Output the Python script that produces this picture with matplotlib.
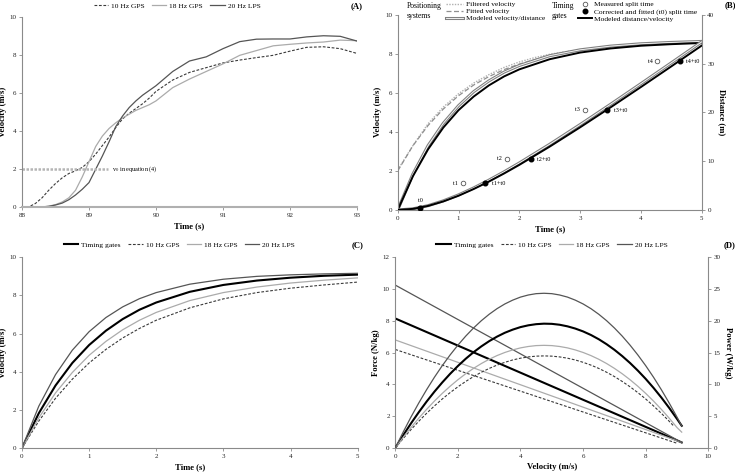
import matplotlib
matplotlib.use("Agg")
import matplotlib.pyplot as plt
from matplotlib.lines import Line2D

plt.rcParams['font.family'] = ['Liberation Serif', 'DejaVu Serif']
plt.rcParams['mathtext.fontset'] = 'stix'

# ---- panel A: raw velocity traces ----
t_a = [88.0, 88.1, 88.2, 88.3, 88.4, 88.5, 88.6, 88.7, 88.8, 88.9,
       89.0, 89.1, 89.2, 89.3, 89.4, 89.5, 89.6, 89.7, 89.8, 89.9,
       90.0, 90.25, 90.5, 90.75, 91.0, 91.25, 91.5, 91.75, 92.0, 92.25,
       92.5, 92.75, 93.0]
v_a_gps10 = [0, 0.02, 0.2, 0.5, 0.9, 1.25, 1.55, 1.78, 1.92, 2.1,
             2.4, 2.8, 3.25, 3.7, 4.2, 4.65, 4.95, 5.2, 5.45, 5.75,
             6.1, 6.7, 7.1, 7.35, 7.6, 7.75, 7.88, 8.0, 8.22, 8.42,
             8.45, 8.35, 8.1]
v_a_gps18 = [0, 0, 0, 0.02, 0.06, 0.14, 0.28, 0.5, 0.9, 1.6,
             2.4, 3.2, 3.75, 4.15, 4.45, 4.7, 4.9, 5.1, 5.25, 5.4,
             5.6, 6.3, 6.75, 7.15, 7.55, 8.0, 8.25, 8.5, 8.58, 8.65,
             8.7, 8.8, 8.77]
v_a_lps20 = [0, 0, 0, 0.02, 0.05, 0.12, 0.22, 0.4, 0.65, 0.95,
             1.3, 2.0, 2.7, 3.45, 4.25, 4.8, 5.25, 5.6, 5.9, 6.15,
             6.4, 7.15, 7.7, 7.92, 8.35, 8.72, 8.85, 8.86, 8.86, 8.97,
             9.03, 9.0, 8.75]
v0_level = 2
v0_end = 89.29

# ---- panel B: example fits ----
t_b = [0, 0.25, 0.5, 0.75, 1.0, 1.25, 1.5, 1.75, 2.0, 2.5, 3.0, 3.5, 4.0, 4.5, 5.0]
v_b_model_pos = [0, 1.84, 3.30, 4.44, 5.34, 6.06, 6.61, 7.06, 7.40, 7.90, 8.20, 8.39, 8.51, 8.58, 8.63]
d_b_model_pos = [0, 0.24, 0.89, 1.87, 3.09, 4.52, 6.11, 7.82, 9.63, 13.46, 17.49, 21.64, 25.87, 30.14, 34.44]
v_b_model_tg = [0, 1.73, 3.11, 4.22, 5.11, 5.81, 6.38, 6.84, 7.20, 7.72, 8.06, 8.27, 8.41, 8.49, 8.55]
d_b_model_tg = [0, 0.23, 0.84, 1.76, 2.92, 4.30, 5.82, 7.48, 9.24, 12.98, 16.93, 21.01, 25.18, 29.41, 33.67]
t_b_raw = [0, 0.25, 0.5, 0.75, 1.0, 1.25, 1.5, 1.75, 2.0, 2.25, 2.5, 2.75, 3.0, 3.25, 3.5, 3.75]
v_b_filtered = [2.05, 3.3, 4.42, 5.27, 5.95, 6.5, 6.93, 7.3, 7.58, 7.8, 7.97, 8.1, 8.2, 8.3, 8.36, 8.42]
v_b_fitted = [2.0, 3.29, 4.33, 5.17, 5.85, 6.40, 6.83, 7.19, 7.47, 7.70, 7.89, 8.03, 8.15, 8.25, 8.33, 8.39]
t0_time = 0.37
t0_dist = 0.5
measured_t = [1.07, 1.80, 3.08, 4.27]
corrected_t = [1.44, 2.19, 3.45, 4.64]
split_dist = [5.5, 10.5, 20.5, 30.5]
measured_lbl = ['t1', 't2', 't3', 't4']
corrected_lbl = ['t1+t0', 't2+t0', 't3+t0', 't4+t0']

# ---- panel C: modeled velocity ----
t_c = [0, 0.25, 0.5, 0.75, 1.0, 1.25, 1.5, 1.75, 2.0, 2.5, 3.0, 3.5, 4.0, 4.5, 5.0]
v_c_tg = [0, 1.82, 3.28, 4.46, 5.40, 6.15, 6.76, 7.25, 7.63, 8.19, 8.55, 8.78, 8.93, 9.03, 9.09]
v_c_gps10 = [0, 1.41, 2.61, 3.61, 4.46, 5.17, 5.77, 6.27, 6.70, 7.35, 7.82, 8.15, 8.38, 8.55, 8.70]
v_c_gps18 = [0, 1.58, 2.89, 3.96, 4.86, 5.59, 6.20, 6.70, 7.11, 7.73, 8.15, 8.44, 8.65, 8.80, 8.92]
v_c_lps20 = [0, 2.19, 3.85, 5.13, 6.10, 6.84, 7.40, 7.83, 8.15, 8.59, 8.85, 9.00, 9.08, 9.13, 9.16]

# ---- panel D: force-velocity and power-velocity ----
fv_v = [0, 9.15]
fv_v10 = [0, 9.0]
f_tg = [8.15, 0.35]
f_gps10 = [6.2, 0.3]
f_gps18 = [6.8, 0.35]
f_lps20 = [10.25, 0.35]
pv_v = [0, 0.25, 0.5, 0.75, 1.0, 1.25, 1.5, 1.75, 2.0, 2.25, 2.5, 2.75, 3.0, 3.25,
        3.5, 3.75, 4.0, 4.25, 4.5, 4.75, 5.0, 5.25, 5.5, 5.75, 6.0, 6.25, 6.5, 6.75,
        7.0, 7.25, 7.5, 7.75, 8.0, 8.25, 8.5, 8.75, 9.0, 9.15]
pv_v10 = [0, 0.25, 0.5, 0.75, 1.0, 1.25, 1.5, 1.75, 2.0, 2.25, 2.5, 2.75, 3.0, 3.25,
          3.5, 3.75, 4.0, 4.25, 4.5, 4.75, 5.0, 5.25, 5.5, 5.75, 6.0, 6.25, 6.5, 6.75,
          7.0, 7.25, 7.5, 7.75, 8.0, 8.25, 8.5, 8.75, 8.9]
p_tg = [0, 1.98, 3.86, 5.63, 7.30, 8.86, 10.31, 11.66, 12.90, 14.04, 15.07, 15.99,
        16.81, 17.52, 18.13, 18.62, 19.02, 19.30, 19.48, 19.56, 19.53, 19.39, 19.14,
        18.79, 18.34, 17.78, 17.11, 16.33, 15.45, 14.46, 13.37, 12.17, 10.87, 9.46,
        7.94, 6.31, 4.58, 3.50]
p_lps20 = [0, 2.49, 4.86, 7.08, 9.17, 11.13, 12.95, 14.63, 16.18, 17.60, 18.88, 20.03,
           21.04, 21.92, 22.66, 23.26, 23.74, 24.07, 24.28, 24.34, 24.28, 24.07, 23.74,
           23.26, 22.66, 21.92, 21.04, 20.03, 18.88, 17.60, 16.18, 14.63, 12.95, 11.13,
           9.17, 7.08, 4.86, 3.46]
p_gps18 = [0, 1.66, 3.22, 4.70, 6.08, 7.38, 8.59, 9.71, 10.74, 11.68, 12.53, 13.29,
           13.96, 14.54, 15.03, 15.43, 15.75, 15.97, 16.11, 16.15, 16.11, 15.97, 15.75,
           15.43, 15.03, 14.54, 13.96, 13.29, 12.53, 11.68, 10.74, 9.71, 8.59, 7.38,
           6.08, 4.70, 3.22, 2.5]
p_gps10 = [0, 1.48, 2.89, 4.21, 5.46, 6.62, 7.71, 8.71, 9.63, 10.47, 11.24, 11.92,
           12.52, 13.04, 13.48, 13.85, 14.13, 14.33, 14.45, 14.49, 14.45, 14.33, 14.13,
           13.85, 13.48, 13.04, 12.52, 11.92, 11.24, 10.47, 9.63, 8.71, 7.71, 6.62,
           5.46, 4.21, 3.43]

C_TG = 'black'
C_10 = '#3a3a3a'
C_18 = '#ababab'
C_20 = '#555555'
DASH = (0, (2.5, 1.5))
SPINE = '#8a8a8a'
LBL = dict(fontsize=6.2, fontweight='bold')
LEG = dict(frameon=False, fontsize=5.4, handlelength=2.2, handletextpad=0.4,
           borderpad=0, borderaxespad=0)
TOPLEG = dict(LEG, handlelength=1.9, columnspacing=1.0)


def style(ax, right=False):
    ax.spines['top'].set_visible(False)
    if right:
        ax.spines['left'].set_visible(False)
        ax.spines['bottom'].set_visible(False)
    else:
        ax.spines['right'].set_visible(False)
    for s in ax.spines.values():
        s.set_color(SPINE)
        s.set_linewidth(0.8)
    ax.tick_params(labelsize=5, length=2.5, width=0.6, color=SPINE, pad=1.5,
                   labelcolor='#222222')


fig = plt.figure(figsize=(7.35, 4.72), dpi=100)

# ---------------- A ----------------
axA = fig.add_axes([0.0299, 0.5608, 0.4558, 0.4025])
axA.plot(t_a, v_a_gps10, color=C_10, ls=DASH, lw=0.8, label='10 Hz GPS')
axA.plot(t_a, v_a_gps18, color=C_18, lw=0.9, label='18 Hz GPS')
axA.plot(t_a, v_a_lps20, color=C_20, lw=0.9, label='20 Hz LPS')
axA.hlines(v0_level, 88, v0_end, color='#b5b5b5', lw=1.8, ls=(0, (1, 0.6)))
axA.text(v0_end + 0.05, v0_level, r'v$_0$ in equation (4)', fontsize=4.5, va='center')
axA.set_xlim(88, 93)
axA.set_ylim(0, 10)
axA.set_xticks([88, 89, 90, 91, 92, 93])
axA.set_yticks([0, 2, 4, 6, 8, 10])
style(axA)
axA.spines['bottom'].set_linewidth(1.5)
axA.spines['bottom'].set_color('#b0b0b0')
axA.set_xlabel('Time (s)', labelpad=3, **LBL)
axA.set_ylabel('Velocity (m/s)', labelpad=2, **LBL)
axA.legend(loc='center', ncol=3, bbox_to_anchor=(0.463, 1.06), **TOPLEG)
axA.text(1.0, 1.06, '(A)', transform=axA.transAxes, ha='center', va='center', **LBL)

# ---------------- B ----------------
axB = fig.add_axes([0.5411, 0.5551, 0.4136, 0.4138])
axB.plot(t_b_raw, v_b_filtered, color='#b0b0b0', ls=(0, (1, 1)), lw=1.0)
axB.plot(t_b_raw, v_b_fitted, color='#8f8f8f', ls=(0, (4, 2)), lw=0.9)
axB.plot(t_b, v_b_model_pos, color='#808080', lw=2.2)
axB.plot(t_b, v_b_model_pos, color='white', lw=0.6)
axB.plot(t_b, v_b_model_tg, color='black', lw=1.4)
axB.set_xlim(0, 5)
axB.set_ylim(0, 10)
axB.set_xticks([0, 1, 2, 3, 4, 5])
axB.set_yticks([0, 2, 4, 6, 8, 10])
style(axB)
axB.set_xlabel('Time (s)', labelpad=3, **LBL)
axB.set_ylabel('Velocity (m/s)', labelpad=2, **LBL)

axB2 = axB.twinx()
axB2.plot(t_b, d_b_model_pos, color='#808080', lw=2.2)
axB2.plot(t_b, d_b_model_pos, color='white', lw=0.6)
axB2.plot(t_b, d_b_model_tg, color='black', lw=1.4)
axB2.plot(measured_t, split_dist, ls='none', marker='o', ms=3.3, mfc='white',
          mec='#555555', mew=0.6)
axB2.plot([t0_time] + corrected_t, [t0_dist] + split_dist, ls='none', marker='o',
          ms=3.3, color='black')
axB2.annotate('t0', (t0_time, t0_dist), xytext=(0, 3.5), textcoords='offset points',
              fontsize=4.5, ha='center', va='bottom')
for x, y, s in zip(measured_t, split_dist, measured_lbl):
    axB2.annotate(s, (x, y), xytext=(-3.5, 0), textcoords='offset points',
                  fontsize=4.5, ha='right', va='center')
for x, y, s in zip(corrected_t, split_dist, corrected_lbl):
    axB2.annotate(s, (x, y), xytext=(4.5, -0.5), textcoords='offset points',
                  fontsize=4.5, ha='left', va='center')
axB2.set_ylim(0, 40)
axB2.set_yticks([0, 10, 20, 30, 40])
style(axB2, right=True)
axB2.set_ylabel('Distance (m)', rotation=270, labelpad=8, **LBL)

pos_handles = [Line2D([], [], color='#b0b0b0', ls=(0, (1, 1)), lw=1.0),
               Line2D([], [], color='#8f8f8f', ls=(0, (4, 2)), lw=0.9),
               (Line2D([], [], color='#808080', lw=2.2), Line2D([], [], color='white', lw=0.6))]
leg1 = axB2.legend(pos_handles, ['Filtered velocity', 'Fitted velocity', 'Modeled velocity/distance'],
                   loc='upper left', bbox_to_anchor=(446 / 735, 1 - 1 / 472),
                   bbox_transform=fig.transFigure, labelspacing=0.1, **LEG)
axB2.add_artist(leg1)
tg_handles = [Line2D([], [], ls='none', marker='o', ms=3.3, mfc='white', mec='#555555', mew=0.6),
              Line2D([], [], ls='none', marker='o', ms=3.3, color='black'),
              Line2D([], [], color='black', lw=1.4)]
LEG2 = dict(LEG, handlelength=1.8)
axB2.legend(tg_handles, ['Measured split time', 'Corrected and fitted (t0) split time',
                         'Modeled distance/velocity'],
            loc='upper left', bbox_to_anchor=(578 / 735, 1 - 1 / 472),
            bbox_transform=fig.transFigure, labelspacing=0.1, **LEG2)
fig.text(407 / 735, 1 - 2 / 472, 'Positioning\nsystems', fontsize=5.5, va='top',
         ha='left', linespacing=1.3)
fig.text(552 / 735, 1 - 2 / 472, 'Timing\ngates', fontsize=5.5, va='top',
         ha='left', linespacing=1.3)
axB.text(1.093, 1.05, '(B)', transform=axB.transAxes, ha='center', va='center', **LBL)

# ---------------- C ----------------
axC = fig.add_axes([0.0299, 0.0508, 0.4567, 0.4041])
axC.plot(t_c, v_c_tg, color=C_TG, lw=1.5, label='Timing gates')
axC.plot(t_c, v_c_gps10, color=C_10, ls=DASH, lw=0.8, label='10 Hz GPS')
axC.plot(t_c, v_c_gps18, color=C_18, lw=0.9, label='18 Hz GPS')
axC.plot(t_c, v_c_lps20, color=C_20, lw=0.9, label='20 Hz LPS')
axC.set_xlim(0, 5)
axC.set_ylim(0, 10)
axC.set_xticks([0, 1, 2, 3, 4, 5])
axC.set_yticks([0, 2, 4, 6, 8, 10])
style(axC)
axC.set_xlabel('Time (s)', labelpad=3, **LBL)
axC.set_ylabel('Velocity (m/s)', labelpad=2, **LBL)
axC.legend(loc='center', ncol=4, bbox_to_anchor=(0.47, 1.065), **TOPLEG)
axC.text(1.0, 1.065, '(C)', transform=axC.transAxes, ha='center', va='center', **LBL)

# ---------------- D ----------------
axD = fig.add_axes([0.5378, 0.0508, 0.4259, 0.4041])
axD.plot(fv_v, f_tg, color=C_TG, lw=1.5, label='Timing gates')
axD.plot(fv_v10, f_gps10, color=C_10, ls=DASH, lw=0.8, label='10 Hz GPS')
axD.plot(fv_v, f_gps18, color=C_18, lw=0.9, label='18 Hz GPS')
axD.plot(fv_v, f_lps20, color=C_20, lw=0.9, label='20 Hz LPS')
axD.set_xlim(0, 10)
axD.set_ylim(0, 12)
axD.set_xticks([0, 2, 4, 6, 8, 10])
axD.set_yticks([0, 2, 4, 6, 8, 10, 12])
style(axD)
axD.set_xlabel('Velocity (m/s)', labelpad=3, **LBL)
axD.set_ylabel('Force (N/kg)', labelpad=2, **LBL)
axD.legend(loc='center', ncol=4, bbox_to_anchor=(0.5, 1.065), **TOPLEG)

axD2 = axD.twinx()
axD2.plot(pv_v, p_tg, color=C_TG, lw=1.5)
axD2.plot(pv_v10, p_gps10, color=C_10, ls=DASH, lw=0.8)
axD2.plot(pv_v, p_gps18, color=C_18, lw=0.9)
axD2.plot(pv_v, p_lps20, color=C_20, lw=0.9)
axD2.set_ylim(0, 30)
axD2.set_yticks([0, 5, 10, 15, 20, 25, 30])
style(axD2, right=True)
axD2.set_ylabel('Power (W/kg)', rotation=270, labelpad=8, **LBL)
axD.text(1.069, 1.065, '(D)', transform=axD.transAxes, ha='center', va='center', **LBL)

fig.savefig('out.png', dpi=100)
